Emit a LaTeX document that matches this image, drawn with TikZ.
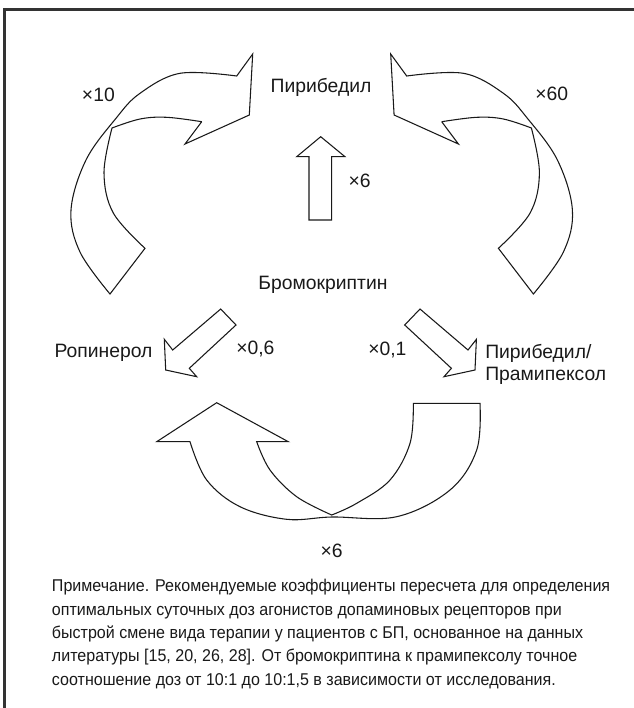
\documentclass[tikz,border=0pt]{standalone}
\usepackage{fontspec}
\setmainfont{Liberation Sans}
\newfontfamily\notefont[FakeStretch=0.94]{Liberation Sans}
\begin{document}
\begin{tikzpicture}[x=0.75pt,y=-0.75pt,
  shp/.style={draw=black!90,line width=0.8pt,line join=miter},
  lbl/.style={inner sep=0pt,font=\fontsize{14.5}{16}\selectfont,text=black!90},
  note/.style={inner sep=0pt,font=\notefont\fontsize{12.8}{15}\selectfont,text=black!90},
  frm/.style={draw=black!80,line width=1.7pt}]
\useasboundingbox (0,0) rectangle (634,708);
% frame (top and left)
\draw[frm] (4.5,708) -- (4.5,9.5) -- (634,9.5);
% top-left curved arrow
\draw[shp] (201.7,121.7) -- (185,144) -- (249.3,115) -- (252.7,54) -- (236.7,76)
  -- plot[smooth,tension=0.6] coordinates {(236.7,76) (180,73.3) (140,93.3) (116,118.3) (86,160) (71,210) (80,252) (110,294)}
  -- (145,248.3)
  -- plot[smooth,tension=0.6] coordinates {(145,248.3) (113.3,213) (104,173) (112,128)}
  -- plot[smooth,tension=0.6] coordinates {(112,128) (140,119) (166.7,117.3) (201.7,121.7)};
% top-right curved arrow (mirror)
\begin{scope}[shift={(643.4,0)},xscale=-1]
\draw[shp] (201.7,121.7) -- (185,144) -- (249.3,115) -- (252.7,54) -- (236.7,76)
  -- plot[smooth,tension=0.6] coordinates {(236.7,76) (180,73.3) (140,93.3) (116,118.3) (86,160) (71,210) (80,252) (110,294)}
  -- (145,248.3)
  -- plot[smooth,tension=0.6] coordinates {(145,248.3) (113.3,213) (104,173) (112,128)}
  -- plot[smooth,tension=0.6] coordinates {(112,128) (140,119) (166.7,117.3) (201.7,121.7)};
\end{scope}
% up arrow
\draw[shp] (309,220) -- (309,156.7) -- (296.7,156.7) -- (320.7,136.7) -- (345,156.7) -- (331.7,156.7) -- (331.7,220) -- cycle;
% lower-left diagonal arrow
\draw[shp] (220.7,309) -- (172.7,350) -- (164.3,339.3) -- (165.7,370) -- (196.7,376.7) -- (189.3,368.3) -- (236,325) -- cycle;
% lower-right diagonal arrow (mirror)
\begin{scope}[shift={(640.7,0)},xscale=-1]
\draw[shp] (220.7,309) -- (172.7,350) -- (164.3,339.3) -- (165.7,370) -- (196.7,376.7) -- (189.3,368.3) -- (236,325) -- cycle;
\end{scope}
% bottom U arrow
\draw[shp] (216.7,402.7) -- (288.3,441.7) -- (256.7,441.7)
  -- plot[smooth,tension=0.6] coordinates {(256.7,441.7) (270,470) (296.7,496.7) (331.7,515)}
  -- plot[smooth,tension=0.6] coordinates {(331.7,515) (356.7,503.3) (390,480) (410,443.3) (413.3,403.3)}
  -- (480,403.3)
  -- plot[smooth,tension=0.6] coordinates {(480,403.3) (476.7,450) (450,490) (396.7,516.7) (331.7,517) (286.7,519.3) (240,506.7) (206.7,480) (190,441.7)}
  -- (156.7,441.7) -- cycle;
% labels
\node[lbl,anchor=base west] (k10) at (81.7,101) {×10};
\node[lbl,anchor=base] (pir) at (321,92) {Пирибедил};
\node[lbl,anchor=base west] (k60) at (535,100) {×60};
\node[lbl,anchor=base west] (k6a) at (348.3,187) {×6};
\node[lbl,anchor=base] (brom) at (323,289.5) {Бромокриптин};
\node[lbl,anchor=base east] (rop) at (152.7,357) {Ропинерол};
\node[lbl,anchor=base west] (k06) at (236,354) {×0,6};
\node[lbl,anchor=base west] (k01) at (368,355) {×0,1};
\node[lbl,anchor=base west] (pp1) at (485,358) {Пирибедил/};
\node[lbl,anchor=base west] (pp2) at (485,380.5) {Прамипексол};
\node[lbl,anchor=base] (k6b) at (331.7,557) {×6};
% note
\node[note,anchor=base west] (n1) at (51.7,591.7) {Примечание. Рекомендуемые коэффициенты пересчета для определения};
\node[note,anchor=base west] (n2) at (51.7,615) {оптимальных суточных доз агонистов допаминовых рецепторов при};
\node[note,anchor=base west] (n3) at (51.7,638.3) {быстрой смене вида терапии у пациентов с БП, основанное на данных};
\node[note,anchor=base west] (n4) at (51.7,661.7) {литературы [15, 20, 26, 28]. От бромокриптина к прамипексолу точное};
\node[note,anchor=base west] (n5) at (51.7,685) {соотношение доз от 10:1 до 10:1,5 в зависимости от исследования.};
\end{tikzpicture}
\end{document}
